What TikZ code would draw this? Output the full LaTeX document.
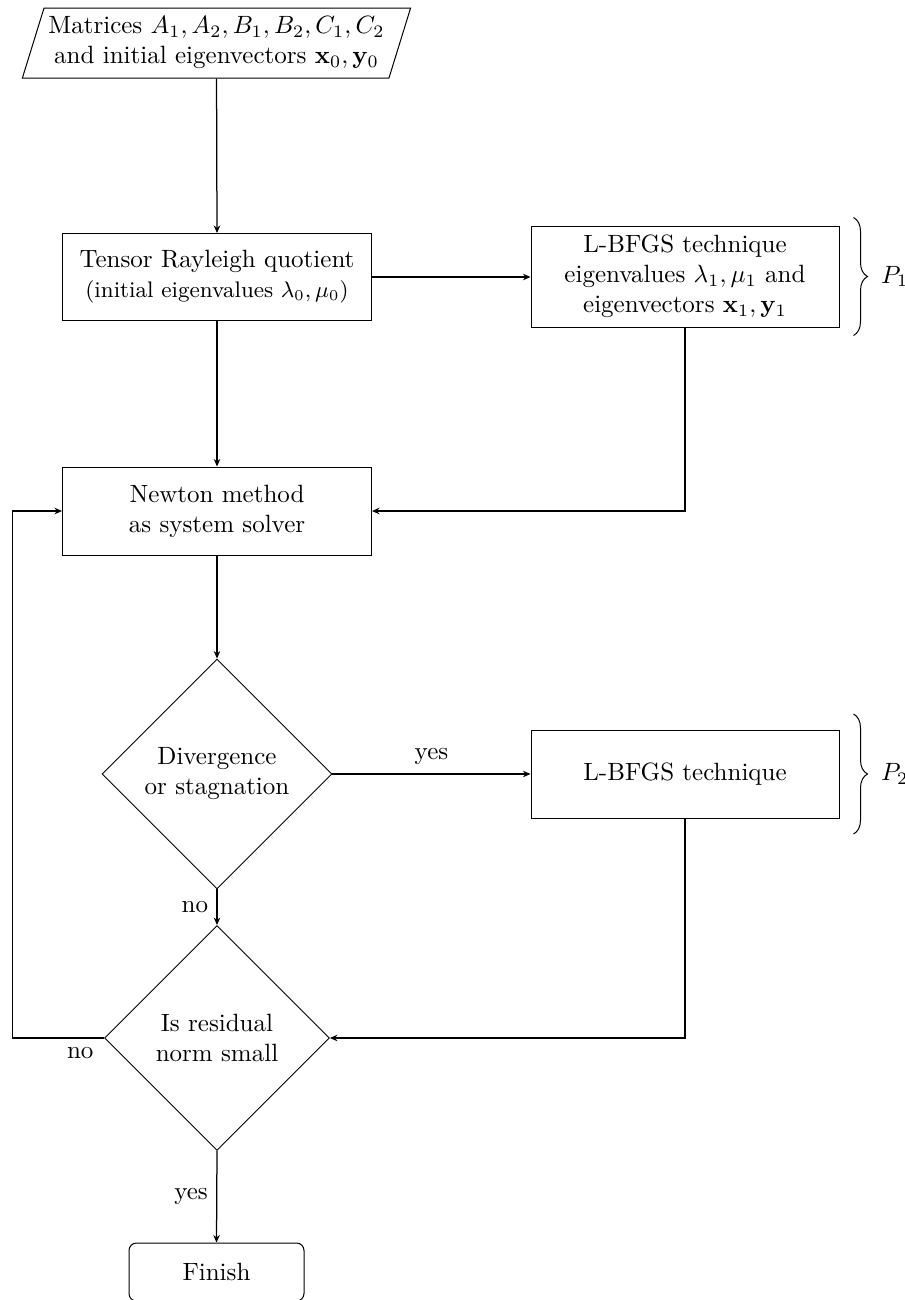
\documentclass[tikz,border=0pt]{standalone}
\usetikzlibrary{shapes.geometric,arrows.meta,decorations.pathreplacing,calc}
\begin{document}
\begin{tikzpicture}[x=0.4pt,y=-0.4pt,
  box/.style={draw, rectangle, align=center, inner sep=0pt, line width=0.4pt},
  dia/.style={draw, diamond, aspect=1, inner sep=0pt, align=center, line width=0.35pt},
  arr/.style={line width=0.5pt, -{Stealth[length=3pt,width=2.6pt]}},
  brc/.style={decorate, decoration={brace, amplitude=5.6pt}, line width=0.4pt}]
\useasboundingbox (0,0) rectangle (905,1300);

\node[draw, trapezium, trapezium left angle=68, trapezium right angle=112,
      trapezium stretches=true, minimum width=155.6pt, minimum height=28pt,
      inner sep=0pt, align=center] (in) at (216.5,43)
  {Matrices $A_1, A_2, B_1, B_2, C_1, C_2$\\ and initial eigenvectors $\mathbf{x}_0, \mathbf{y}_0$};

\node[box, minimum width=123.6pt, minimum height=34.8pt] (trq) at (217,277)
  {Tensor Rayleigh quotient\\ {\small (initial eigenvalues $\lambda_0, \mu_0$)}};

\node[box, minimum width=123.2pt, minimum height=40.4pt] (lb1) at (685,276.5)
  {L-BFGS technique\\ eigenvalues $\lambda_1, \mu_1$ and\\ eigenvectors $\mathbf{x}_1, \mathbf{y}_1$};

\node[box, minimum width=123.6pt, minimum height=35.2pt] (nm) at (217,511)
  {Newton method\\ as system solver};

\node[dia, minimum size=92pt] (d1) at (217,774) {Divergence\\ or stagnation};

\node[box, minimum width=123.2pt, minimum height=35.2pt] (lb2) at (685,774.5)
  {L-BFGS technique};

\node[dia, minimum size=90pt] (d2) at (217,1038) {Is residual\\ norm small};

\node[draw, rectangle, rounded corners=3pt, minimum width=70pt, minimum height=23.2pt,
      inner sep=0pt] (fin) at (216.5,1272) {Finish};

\coordinate (loop) at (12.3,800);

\draw[arr] (in.south) -- (trq.north);
\draw[arr] (trq.east) -- (trq.east -| lb1.west);
\draw[arr] (lb1.south) |- (nm.east);
\draw[arr] (trq.south) -- (nm.north);
\draw[arr] (nm.south) -- (d1.north);
\draw[arr] (d1.east) -- node[above] {yes} (d1.east -| lb2.west);
\draw[arr] (d1.south) -- node[left] {no} (d2.north);
\draw[arr] (lb2.south) |- (d2.east);
\draw[arr] (d2.west) -- node[below, pos=0.26] {no} (d2.west -| loop) |- (nm.west);
\draw[arr] (d2.south) -- node[left] {yes} (fin.north);

\draw[brc] ($(lb1.north east)+(14,-8)$) -- ($(lb1.south east)+(14,8)$)
  node[midway, right=7.5pt] {$P_1$};
\draw[brc] ($(lb2.north east)+(14,-16)$) -- ($(lb2.south east)+(14,15)$)
  node[midway, right=7.5pt] {$P_2$};
\end{tikzpicture}
\end{document}
